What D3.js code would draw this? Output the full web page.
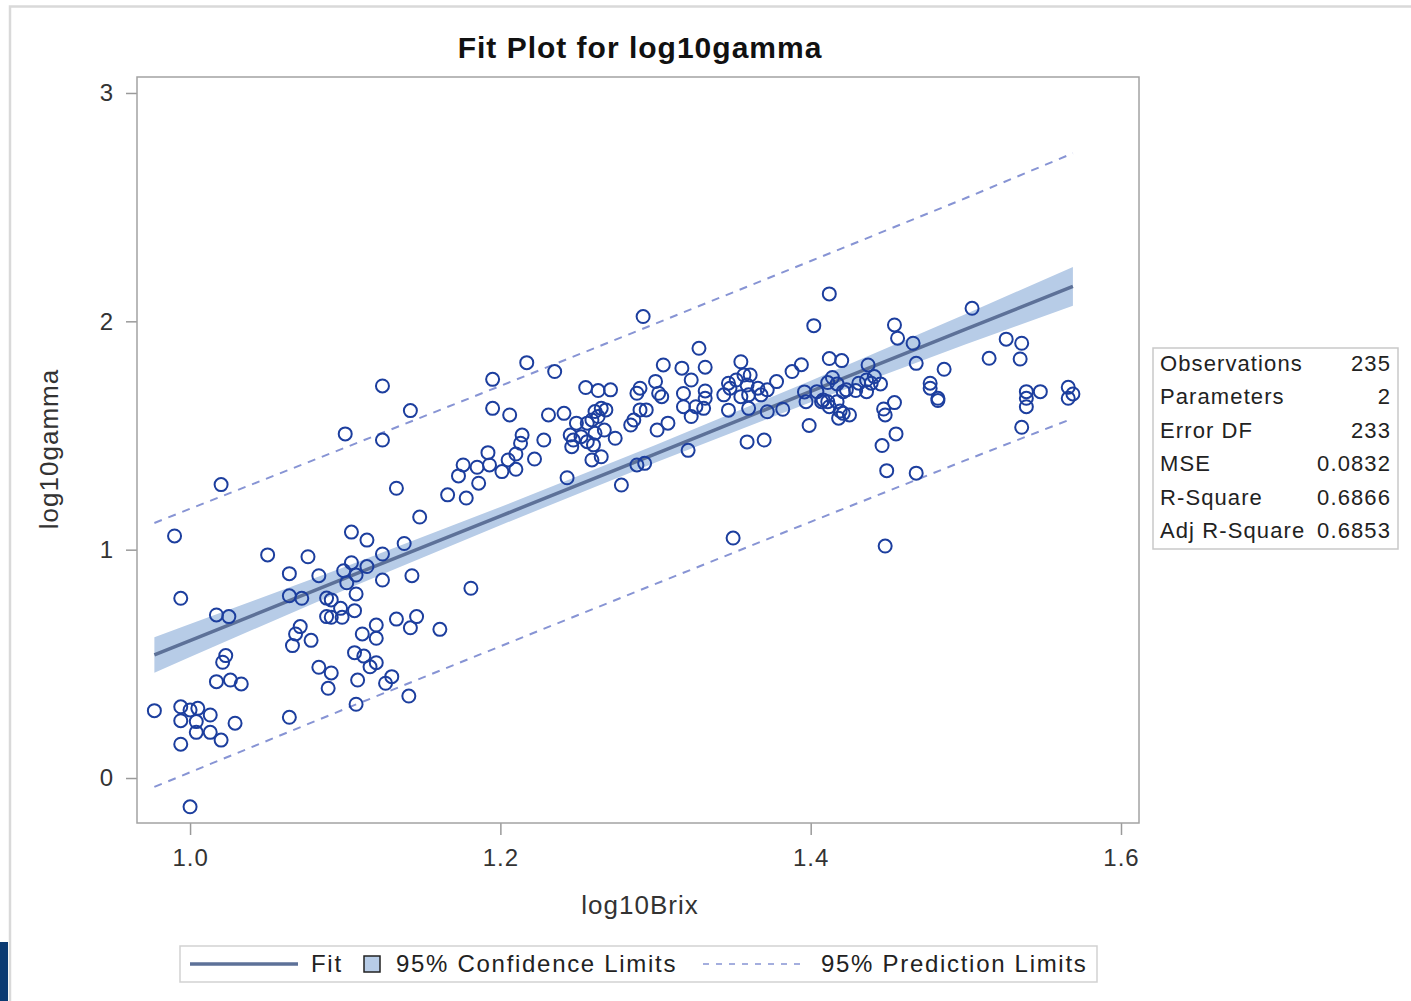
<!DOCTYPE html>
<html>
<head>
<meta charset="utf-8">
<script src="https://cdn.jsdelivr.net/npm/d3@7"></script>
<style>
  body { margin: 0; background: #fff; }
  text { font-family: "Liberation Sans", Arial, sans-serif; }
</style>
</head>
<body>
<div id="chart"></div>
<script>
// Data
const brix = [
  0.977, 0.990, 0.994, 0.994, 1.000, 1.005, 1.013, 0.994, 1.004, 1.004,
  1.013, 1.020, 1.029, 0.994, 1.000, 1.020, 1.017, 1.025, 1.023, 1.021,
  1.017, 1.026, 1.033, 1.050, 1.064, 1.064, 1.072, 1.076, 1.083, 1.088,
  1.091, 1.088, 1.091, 1.098, 1.097, 1.071, 1.068, 1.078, 1.066, 1.083,
  1.091, 1.089, 1.064, 1.099, 1.101, 1.104, 1.107, 1.114, 1.104, 1.114,
  1.124, 1.124, 1.138, 1.143, 1.148, 1.107, 1.106, 1.120, 1.111, 1.120,
  1.133, 1.146, 1.142, 1.161, 1.181, 1.106, 1.112, 1.120, 1.116, 1.108,
  1.130, 1.126, 1.107, 1.141, 1.124, 1.142, 1.100, 1.124, 1.133, 1.166,
  1.178, 1.173, 1.176, 1.185, 1.186, 1.192, 1.193, 1.195, 1.195, 1.206,
  1.201, 1.205, 1.210, 1.210, 1.213, 1.214, 1.217, 1.222, 1.228, 1.231,
  1.235, 1.241, 1.243, 1.245, 1.247, 1.246, 1.249, 1.252, 1.256, 1.256,
  1.255, 1.260, 1.259, 1.265, 1.261, 1.259, 1.263, 1.261, 1.265, 1.268,
  1.263, 1.271, 1.267, 1.274, 1.278, 1.284, 1.286, 1.290, 1.294, 1.288,
  1.290, 1.288, 1.293, 1.292, 1.301, 1.308, 1.300, 1.302, 1.304, 1.305,
  1.317, 1.323, 1.318, 1.318, 1.323, 1.326, 1.321, 1.328, 1.332, 1.332,
  1.332, 1.331, 1.344, 1.347, 1.348, 1.352, 1.355, 1.357, 1.361, 1.359,
  1.355, 1.360, 1.366, 1.368, 1.372, 1.378, 1.388, 1.394, 1.347, 1.360,
  1.372, 1.382, 1.359, 1.370, 1.350, 1.399, 1.396, 1.397, 1.402, 1.404,
  1.407, 1.412, 1.412, 1.420, 1.411, 1.414, 1.417, 1.421, 1.423, 1.408,
  1.411, 1.417, 1.412, 1.419, 1.421, 1.425, 1.418, 1.431, 1.436, 1.437,
  1.441, 1.439, 1.445, 1.429, 1.436, 1.447, 1.448, 1.454, 1.455, 1.446,
  1.449, 1.448, 1.454, 1.456, 1.466, 1.468, 1.468, 1.486, 1.477, 1.477,
  1.482, 1.482, 1.504, 1.515, 1.526, 1.536, 1.535, 1.539, 1.548, 1.539,
  1.539, 1.566, 1.569, 1.566, 1.536
]
const gamma = [
  0.295, 1.060, 0.787, 0.312, 0.298, 0.305, 0.276, 0.251, 0.247, 0.200,
  0.200, 0.166, 0.240, 0.148, -0.126, 1.285, 0.714, 0.707, 0.536, 0.507,
  0.422, 0.429, 0.412, 0.977, 0.895, 0.798, 0.787, 0.969, 0.886, 0.788,
  0.780, 0.707, 0.704, 0.704, 0.743, 0.663, 0.631, 0.603, 0.580, 0.485,
  0.460, 0.393, 0.266, 0.908, 0.855, 0.943, 0.889, 0.926, 1.077, 1.042,
  0.981, 0.867, 1.027, 0.886, 1.143, 0.806, 0.733, 0.670, 0.631, 0.612,
  0.696, 0.707, 0.658, 0.651, 0.831, 0.549, 0.534, 0.505, 0.487, 0.429,
  0.444, 0.415, 0.323, 0.359, 1.717, 1.609, 1.507, 1.480, 1.269, 1.240,
  1.226, 1.323, 1.371, 1.361, 1.291, 1.425, 1.371, 1.746, 1.619, 1.590,
  1.342, 1.393, 1.419, 1.352, 1.466, 1.502, 1.819, 1.397, 1.480, 1.590,
  1.780, 1.597, 1.315, 1.502, 1.480, 1.451, 1.554, 1.495, 1.554, 1.473,
  1.710, 1.459, 1.393, 1.407, 1.510, 1.568, 1.583, 1.605, 1.619, 1.612,
  1.697, 1.700, 1.524, 1.488, 1.283, 1.546, 1.568, 1.612, 1.612, 1.685,
  1.707, 1.371, 1.378, 2.021, 1.524, 1.554, 1.737, 1.685, 1.670, 1.809,
  1.795, 1.743, 1.684, 1.626, 1.583, 1.626, 1.435, 1.882, 1.799, 1.695,
  1.663, 1.619, 1.678, 1.729, 1.707, 1.743, 1.823, 1.765, 1.765, 1.721,
  1.670, 1.678, 1.707, 1.678, 1.700, 1.736, 1.780, 1.810, 1.611, 1.619,
  1.604, 1.615, 1.472, 1.480, 1.051, 1.544, 1.691, 1.648, 1.981, 1.692,
  1.648, 2.120, 1.837, 1.828, 1.732, 1.754, 1.726, 1.692, 1.700, 1.656,
  1.648, 1.648, 1.626, 1.607, 1.597, 1.590, 1.576, 1.729, 1.743, 1.809,
  1.758, 1.729, 1.726, 1.697, 1.692, 1.616, 1.590, 1.644, 1.507, 1.456,
  1.346, 1.016, 1.984, 1.926, 1.904, 1.816, 1.335, 1.790, 1.729, 1.707,
  1.663, 1.653, 2.057, 1.838, 1.922, 1.904, 1.835, 1.692, 1.692, 1.663,
  1.626, 1.711, 1.682, 1.663, 1.536
]

// Fit, confidence and prediction limits, read at a few log10Brix values
const bandX = [0.977, 1.0, 1.1, 1.2, 1.3, 1.4, 1.5, 1.569]
const fitY = [0.539, 0.602, 0.875, 1.147, 1.420, 1.693, 1.966, 2.153]
const clmLower = [0.461, 0.530, 0.825, 1.107, 1.382, 1.646, 1.900, 2.068]
const clmUpper = [0.617, 0.674, 0.925, 1.187, 1.458, 1.740, 2.032, 2.238]
const predLower = [-0.039, 0.025, 0.303, 0.577, 0.850, 1.122, 1.392, 1.575]
const predUpper = [1.117, 1.179, 1.447, 1.717, 1.990, 2.264, 2.540, 2.736]

const xTicks = [1.0, 1.2, 1.4, 1.6]
const yTicks = [0, 1, 2, 3]

const statLabels = ['Observations', 'Parameters', 'Error DF', 'MSE', 'R-Square', 'Adj R-Square']
const statValues = ['235', '2', '233', '0.0832', '0.6866', '0.6853']

const WIDTH = 1411
const HEIGHT = 1001
const PLOT = { left: 137, top: 77, right: 1139, bottom: 823 }

const svg = d3.select('#chart')
    .append('svg')
    .attr('width', WIDTH)
    .attr('height', HEIGHT)

// page frame
svg.append('path')
    .attr('d', `M10,${HEIGHT} L10,6.5 L${WIDTH},6.5`)
    .attr('fill', 'none')
    .attr('stroke', '#d9d9d9')
    .attr('stroke-width', 2.5)
svg.append('rect')
    .attr('x', 0).attr('y', 942)
    .attr('width', 8).attr('height', 59)
    .attr('fill', '#0b3a72')

// Scales
const xScale = d3.scaleLinear()
    .domain([0.9658, 1.6116])
    .range([PLOT.left, PLOT.right])

const yScale = d3.scaleLinear()
    .domain([-0.197, 3.070])
    .range([PLOT.bottom, PLOT.top])

// Title
svg.append('text')
    .attr('x', 640)
    .attr('y', 58)
    .attr('text-anchor', 'middle')
    .attr('font-size', 30)
    .attr('font-weight', 'bold')
    .attr('letter-spacing', 1)
    .attr('fill', '#111')
    .text('Fit Plot for log10gamma')

// Axes
const xAxis = d3.axisBottom(xScale)
    .tickValues(xTicks)
    .tickFormat(d3.format('.1f'))
    .tickSize(12)
    .tickPadding(14)
const yAxis = d3.axisLeft(yScale)
    .tickValues(yTicks)
    .tickFormat(d3.format('d'))
    .tickSize(11)
    .tickPadding(12)

const gx = svg.append('g')
    .attr('id', 'x-axis')
    .attr('transform', `translate(0, ${PLOT.bottom})`)
    .call(xAxis)
const gy = svg.append('g')
    .attr('id', 'y-axis')
    .attr('transform', `translate(${PLOT.left}, 0)`)
    .call(yAxis)

for (const g of [gx, gy]) {
    g.select('.domain').remove()
    g.selectAll('.tick line').attr('stroke', '#9a9a9a').attr('stroke-width', 1.5)
    g.selectAll('.tick text')
        .attr('font-size', 24)
        .attr('fill', '#333')
        .attr('letter-spacing', 1)
        .style('font-family', '"Liberation Sans", Arial, sans-serif')
}

// Axis labels
svg.append('text')
    .attr('x', 640)
    .attr('y', 914)
    .attr('text-anchor', 'middle')
    .attr('font-size', 26)
    .attr('letter-spacing', 1)
    .attr('fill', '#333')
    .text('log10Brix')
svg.append('text')
    .attr('transform', 'translate(58, 449) rotate(-90)')
    .attr('text-anchor', 'middle')
    .attr('font-size', 26)
    .attr('letter-spacing', 1)
    .attr('fill', '#333')
    .text('log10gamma')

// Plot area
svg.append('clipPath')
    .attr('id', 'clip')
    .append('rect')
    .attr('x', PLOT.left).attr('y', PLOT.top)
    .attr('width', PLOT.right - PLOT.left)
    .attr('height', PLOT.bottom - PLOT.top)

const plot = svg.append('g').attr('clip-path', 'url(#clip)')

const bandData = bandX.map((x, i) => ({
    x, fit: fitY[i], lo: clmLower[i], hi: clmUpper[i], plo: predLower[i], phi: predUpper[i]
}))

plot.append('path')
    .datum(bandData)
    .attr('fill', '#b7cce7')
    .attr('d', d3.area()
        .x(d => xScale(d.x))
        .y0(d => yScale(d.lo))
        .y1(d => yScale(d.hi)))

for (const key of ['plo', 'phi']) {
    plot.append('path')
        .datum(bandData)
        .attr('fill', 'none')
        .attr('stroke', '#8794d4')
        .attr('stroke-width', 2)
        .attr('stroke-dasharray', '8,7')
        .attr('d', d3.line().x(d => xScale(d.x)).y(d => yScale(d[key])))
}

plot.append('path')
    .datum(bandData)
    .attr('fill', 'none')
    .attr('stroke', '#5d7198')
    .attr('stroke-width', 3.5)
    .attr('d', d3.line().x(d => xScale(d.x)).y(d => yScale(d.fit)))

// Points
plot.selectAll('circle')
    .data(brix)
    .enter()
    .append('circle')
    .attr('cx', d => xScale(d))
    .attr('cy', (d, i) => yScale(gamma[i]))
    .attr('r', 6.5)
    .attr('fill', 'none')
    .attr('stroke', '#1c3e9e')
    .attr('stroke-width', 2)

// Frame
svg.append('rect')
    .attr('x', PLOT.left).attr('y', PLOT.top)
    .attr('width', PLOT.right - PLOT.left)
    .attr('height', PLOT.bottom - PLOT.top)
    .attr('fill', 'none')
    .attr('stroke', '#a3a3a3')
    .attr('stroke-width', 1.5)

// Stats inset
const stats = svg.append('g')
stats.append('rect')
    .attr('x', 1153).attr('y', 348)
    .attr('width', 245).attr('height', 201)
    .attr('fill', '#fff')
    .attr('stroke', '#c9c9c9')
    .attr('stroke-width', 1.5)
statLabels.forEach((label, i) => {
    const y = 371 + i * 33.4
    stats.append('text')
        .attr('x', 1160).attr('y', y)
        .attr('font-size', 22)
        .attr('letter-spacing', 1.1)
        .attr('fill', '#222')
        .text(label)
    stats.append('text')
        .attr('x', 1391).attr('y', y)
        .attr('text-anchor', 'end')
        .attr('font-size', 22)
        .attr('letter-spacing', 1.1)
        .attr('fill', '#222')
        .text(statValues[i])
})

// Legend
const legend = svg.append('g')
legend.append('rect')
    .attr('x', 180).attr('y', 946)
    .attr('width', 917).attr('height', 36)
    .attr('fill', '#fff')
    .attr('stroke', '#d2d2d2')
    .attr('stroke-width', 1.5)
legend.append('line')
    .attr('x1', 190).attr('x2', 298)
    .attr('y1', 964).attr('y2', 964)
    .attr('stroke', '#5d7198')
    .attr('stroke-width', 3.5)
legend.append('text')
    .attr('x', 311).attr('y', 972)
    .attr('font-size', 24)
    .attr('letter-spacing', 1.7)
    .attr('fill', '#222')
    .text('Fit')
legend.append('rect')
    .attr('x', 364).attr('y', 956)
    .attr('width', 16).attr('height', 16)
    .attr('fill', '#b7cce7')
    .attr('stroke', '#222')
    .attr('stroke-width', 1.5)
legend.append('text')
    .attr('x', 396).attr('y', 972)
    .attr('font-size', 24)
    .attr('letter-spacing', 1.7)
    .attr('fill', '#222')
    .text('95% Confidence Limits')
legend.append('line')
    .attr('x1', 703).attr('x2', 800)
    .attr('y1', 964).attr('y2', 964)
    .attr('stroke', '#8794d4')
    .attr('stroke-width', 1.5)
    .attr('stroke-dasharray', '6,7')
legend.append('text')
    .attr('x', 821).attr('y', 972)
    .attr('font-size', 24)
    .attr('letter-spacing', 1.7)
    .attr('fill', '#222')
    .text('95% Prediction Limits')
</script>
</body>
</html>
